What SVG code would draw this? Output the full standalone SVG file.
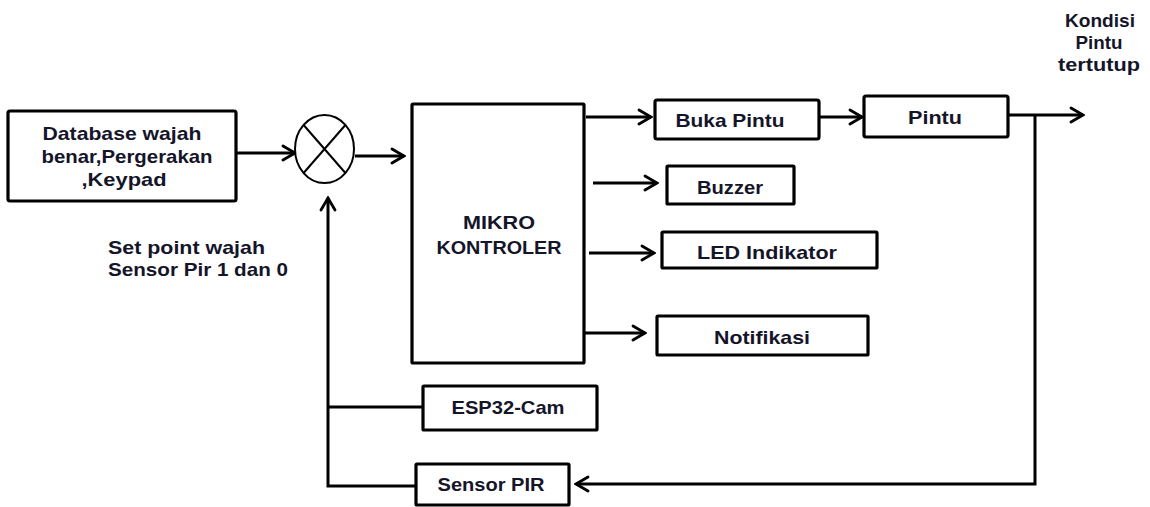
<svg xmlns="http://www.w3.org/2000/svg" width="1150" height="507" viewBox="0 0 1150 507">
<defs>
<marker id="ah" markerUnits="userSpaceOnUse" markerWidth="16" markerHeight="18" viewBox="0 0 16 18" refX="14" refY="9" orient="auto">
<path d="M2,2 L14,9 L2,16" fill="none" stroke="#000" stroke-width="2.8" stroke-linecap="round" stroke-linejoin="miter"/>
</marker>
<style>
.box{fill:#fff;stroke:#000;stroke-width:3.2}
.ln{fill:none;stroke:#000;stroke-width:3}
.t{font-family:"Liberation Sans",Arial,sans-serif;font-weight:bold;font-size:19px;fill:#15152a;text-anchor:middle}
.tl{font-family:"Liberation Sans",Arial,sans-serif;font-weight:bold;font-size:19px;fill:#15152a}
</style>
</defs>
<rect width="1150" height="507" fill="#fff"/>

<g id="connectors">
<line class="ln" x1="236" y1="153" x2="295" y2="153" marker-end="url(#ah)"/>
<line class="ln" x1="355" y1="156" x2="404" y2="156" marker-end="url(#ah)"/>
<line class="ln" x1="586" y1="117" x2="651" y2="117" marker-end="url(#ah)"/>
<line class="ln" x1="593" y1="183" x2="657" y2="183" marker-end="url(#ah)"/>
<line class="ln" x1="589" y1="253" x2="654" y2="253" marker-end="url(#ah)"/>
<line class="ln" x1="584" y1="333" x2="645" y2="333" marker-end="url(#ah)"/>
<line class="ln" x1="819" y1="117" x2="862" y2="117" marker-end="url(#ah)"/>
<line class="ln" x1="1008" y1="115" x2="1083" y2="115" marker-end="url(#ah)"/>
<polyline class="ln" points="1035,115 1035,484 576,484" marker-end="url(#ah)"/>
<polyline class="ln" points="416,486 328,486 328,198" marker-end="url(#ah)"/>
<line class="ln" x1="328" y1="407" x2="423" y2="407"/>
</g>

<g id="database">
<rect class="box" x="8" y="111" width="228" height="90" rx="2"/>
<text class="t" x="122" y="140" textLength="159" lengthAdjust="spacingAndGlyphs">Database wajah</text>
<text class="t" x="127" y="163" textLength="171" lengthAdjust="spacingAndGlyphs">benar,Pergerakan</text>
<text class="t" x="124" y="186" textLength="85" lengthAdjust="spacingAndGlyphs">,Keypad</text>
</g>

<g id="summing">
<ellipse cx="324.5" cy="149" rx="29.5" ry="34" fill="#fff" stroke="#000" stroke-width="2"/>
<line x1="303.6" y1="125" x2="345.4" y2="173" stroke="#000" stroke-width="2"/>
<line x1="345.4" y1="125" x2="303.6" y2="173" stroke="#000" stroke-width="2"/>
</g>

<g id="setpoint">
<text class="tl" x="108" y="254" textLength="157" lengthAdjust="spacingAndGlyphs">Set point wajah</text>
<text class="tl" x="108" y="276" textLength="180" lengthAdjust="spacingAndGlyphs">Sensor Pir 1 dan 0</text>
</g>

<g id="mikrokontroler">
<rect class="box" x="412" y="104" width="172" height="259" rx="1"/>
<text class="t" x="499" y="229" textLength="72" lengthAdjust="spacingAndGlyphs">MIKRO</text>
<text class="t" x="499" y="254" textLength="125" lengthAdjust="spacingAndGlyphs">KONTROLER</text>
</g>

<g id="bukapintu">
<rect class="box" x="655" y="100" width="164" height="39" rx="2"/>
<text class="t" x="730" y="127" textLength="109" lengthAdjust="spacingAndGlyphs">Buka Pintu</text>
</g>

<g id="pintu">
<rect class="box" x="864" y="96" width="144" height="41" rx="2"/>
<text class="t" x="935" y="124" textLength="54" lengthAdjust="spacingAndGlyphs">Pintu</text>
</g>

<g id="buzzer">
<rect class="box" x="667" y="166" width="127" height="38" rx="1"/>
<text class="t" x="730" y="194" textLength="66" lengthAdjust="spacingAndGlyphs">Buzzer</text>
</g>

<g id="led">
<rect class="box" x="662" y="232" width="215" height="36" rx="1"/>
<text class="t" x="767" y="259" textLength="140" lengthAdjust="spacingAndGlyphs">LED Indikator</text>
</g>

<g id="notifikasi">
<rect class="box" x="657" y="316" width="211" height="39" rx="1"/>
<text class="t" x="762" y="344" textLength="96" lengthAdjust="spacingAndGlyphs">Notifikasi</text>
</g>

<g id="esp32cam">
<rect class="box" x="423" y="386" width="174" height="44" rx="1"/>
<text class="t" x="508" y="414" textLength="113" lengthAdjust="spacingAndGlyphs">ESP32-Cam</text>
</g>

<g id="sensorpir">
<rect class="box" x="416" y="464" width="153" height="41" rx="1"/>
<text class="t" x="491" y="491" textLength="107" lengthAdjust="spacingAndGlyphs">Sensor PIR</text>
</g>

<g id="kondisi">
<text class="t" x="1100" y="27" textLength="70" lengthAdjust="spacingAndGlyphs">Kondisi</text>
<text class="t" x="1099" y="49" textLength="47" lengthAdjust="spacingAndGlyphs">Pintu</text>
<text class="t" x="1099" y="71" textLength="82" lengthAdjust="spacingAndGlyphs">tertutup</text>
</g>
</svg>
